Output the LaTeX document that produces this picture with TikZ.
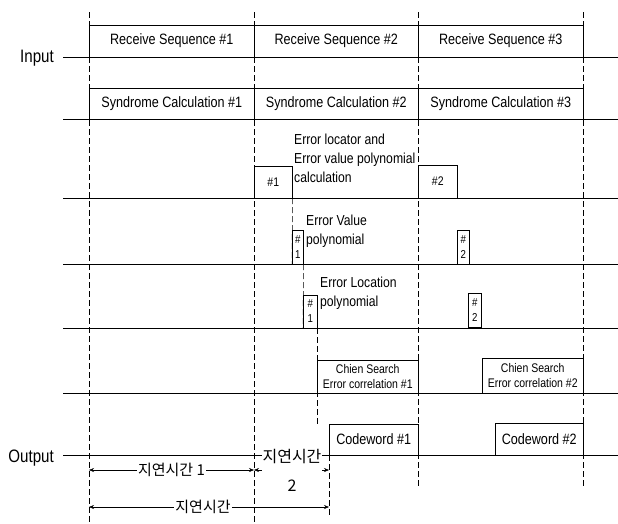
\documentclass[tikz,border=0pt]{standalone}
\usepackage{fontspec}
\setmainfont{Liberation Sans}[FakeStretch=0.84]
\newfontfamily\kofont{Noto Sans CJK KR}
\usetikzlibrary{arrows.meta}

\begin{document}
\begin{tikzpicture}[x=1pt,y=-1pt,
  blk/.style={draw,line width=0.5pt,anchor=south west,inner sep=0pt,align=center,
              font=\fontsize{15}{16}\selectfont},
  tinyblk/.style={blk,font=\fontsize{11.5}{15}\selectfont},
  smallblk/.style={blk,font=\fontsize{12.5}{15}\selectfont},
  row/.style={line width=0.7pt},
  tick/.style={dash pattern=on 6pt off 3pt,line width=0.5pt},
  lbl/.style={anchor=west,inner sep=0pt,align=left,font=\fontsize{14.5}{19}\selectfont},
  side/.style={anchor=base east,inner sep=0pt,font=\fontsize{18}{20}\selectfont},
  dly/.style={{Stealth[length=5pt,width=4pt]}-{Stealth[length=5pt,width=4pt]},line width=0.5pt},
  kor/.style={fill=white,inner sep=1pt,font=\kofont\fontsize{15}{19}\selectfont}]
\useasboundingbox (0,0) rectangle (618,523);
% row labels and time lines
\node[side] (inp) at (54,62) {Input};
\node[side] (outp) at (54,462) {Output};
\draw[row] (63,57) -- (618,57);
\draw[row] (63,119) -- (618,119);
\draw[row] (63,198) -- (618,198);
\draw[row] (63,264) -- (618,264);
\draw[row] (63,328) -- (618,328);
\draw[row] (63,393) -- (618,393);
\draw[row] (63,455) -- (618,455);
% frame borders
\draw[tick] (89,12) -- (89,523);
\draw[tick] (254,12) -- (254,523);
\draw[tick] (418,12) -- (418,488);
\draw[tick] (583,12) -- (583,488);
% receive / syndrome
\node[blk,minimum width=165pt,minimum height=32pt] (rs1) at (89,57) {Receive Sequence \#1};
\node[blk,minimum width=164pt,minimum height=32pt] (rs2) at (254,57) {Receive Sequence \#2};
\node[blk,minimum width=165pt,minimum height=32pt] (rs3) at (418,57) {Receive Sequence \#3};
\node[blk,minimum width=165pt,minimum height=31pt] (sc1) at (89,119) {Syndrome Calculation \#1};
\node[blk,minimum width=164pt,minimum height=31pt] (sc2) at (254,119) {Syndrome Calculation \#2};
\node[blk,minimum width=165pt,minimum height=31pt] (sc3) at (418,119) {Syndrome Calculation \#3};
% error locator / value polynomial
\node[tinyblk,minimum width=38pt,minimum height=32pt,font=\fontsize{12.5}{14}\selectfont] (el1) at (254,198) {\#1};
\node[tinyblk,minimum width=39pt,minimum height=33pt,font=\fontsize{12.5}{14}\selectfont] (el2) at (418,198) {\#2};
\node[lbl] (eltxt) at (294,158) {Error locator and\\Error value polynomial\\calculation};
\node[tinyblk,minimum width=11pt,minimum height=34pt] (ev1) at (292,264) {\#\\1};
\node[tinyblk,minimum width=12pt,minimum height=34pt] (ev2) at (457,264) {\#\\2};
\node[lbl] (evtxt) at (306,231) {Error Value\\polynomial};
\node[tinyblk,minimum width=14pt,minimum height=33pt] (lp1) at (303,328) {\#\\1};
\node[tinyblk,minimum width=13pt,minimum height=34pt] (lp2) at (468,327) {\#\\2};
\node[lbl] (lptxt) at (320,293.5) {Error Location\\polynomial};
% chien search / output
\node[smallblk,minimum width=101pt,minimum height=33pt] (cs1) at (317,393) {Chien Search\\Error correlation \#1};
\node[smallblk,minimum width=101pt,minimum height=35pt] (cs2) at (482,393) {Chien Search\\Error correlation \#2};
\node[blk,minimum width=89pt,minimum height=31pt] (cw1) at (329,455) {Codeword \#1};
\node[blk,minimum width=88pt,minimum height=32pt] (cw2) at (495,455) {Codeword \#2};
\draw[tick] (el1.south east) -- (ev1.south west);
\draw[tick] (ev1.south east) -- (lp1.south west);
\draw[tick] (lp1.south east) -- (lp1.south east |- cw1.north);
\draw[tick] (cw1.south west) -- ++(0,60);
% delays
\coordinate (d0) at (89,470);
\coordinate (d1) at (254,470);
\coordinate (d2) at (329,470);
\coordinate (e0) at (89,507);
\coordinate (e2) at (329,507);
\draw[dly] (d0) -- node[kor] (dt1) {지연시간 1} (d1);
\draw[dly] (d1) -- (d2);
\node[kor,align=center,font=\kofont\fontsize{16}{29}\selectfont] (dt2) at (292,470) {지연시간\\2};
\draw[dly] (e0) -- node[kor,pos=0.475] (dt) {지연시간} (e2);
\end{tikzpicture}
\end{document}
